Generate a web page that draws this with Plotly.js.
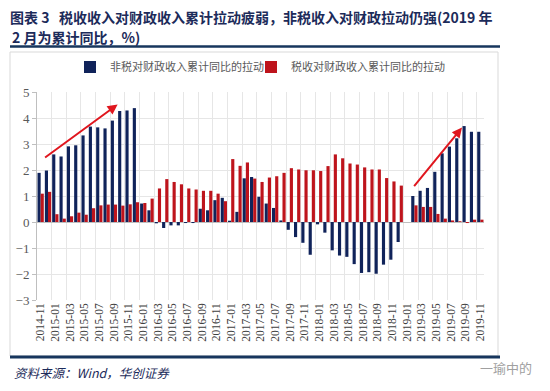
<!DOCTYPE html>
<html>
<head>
<meta charset="utf-8">
<script src="https://cdn.plot.ly/plotly-3.0.1.min.js"></script>
<style>html,body{margin:0;padding:0;background:#fff;}#chart{width:550px;height:391px;}</style>
</head>
<body>
<div id="chart"></div>
<script>
// Monthly categories (2019-01 has no data: Jan–Feb 2019 reported cumulatively)
var months = [
  "2014-11","2014-12",
  "2015-01","2015-02","2015-03","2015-04","2015-05","2015-06","2015-07","2015-08","2015-09","2015-10","2015-11","2015-12",
  "2016-01","2016-02","2016-03","2016-04","2016-05","2016-06","2016-07","2016-08","2016-09","2016-10","2016-11","2016-12",
  "2017-01","2017-02","2017-03","2017-04","2017-05","2017-06","2017-07","2017-08","2017-09","2017-10","2017-11","2017-12",
  "2018-01","2018-02","2018-03","2018-04","2018-05","2018-06","2018-07","2018-08","2018-09","2018-10","2018-11","2018-12",
  "2019-01","2019-02","2019-03","2019-04","2019-05","2019-06","2019-07","2019-08","2019-09","2019-10","2019-11"
];

// 非税对财政收入累计同比的拉动 (%)
var nonTaxPull = [
  1.89, 1.98,
  2.60, 2.52, 2.91, 2.95, 3.33, 3.67, 3.64, 3.60, 3.90, 4.27, 4.29, 4.38,
  0.71, 0.45, -0.05, -0.23, -0.13, -0.13, -0.04, -0.04, 0.51, 0.45, 0.84, 0.93,
  0.05, 0.39, 1.68, 1.73, 0.97, 0.71, 0.54, 0.06, -0.30, -0.58, -0.80, -1.26,
  -0.09, -0.41, -1.09, -1.29, -1.34, -1.62, -1.96, -1.93, -1.99, -1.64, -1.45, -0.77,
  null, 1.00, 1.20, 1.31, 1.93, 2.64, 2.90, 3.22, 3.69, 3.47, 3.47
];

// 税收对财政收入累计同比的拉动 (%)
var taxPull = [
  1.09, 1.16,
  0.30, 0.13, 0.22, 0.36, 0.28, 0.53, 0.64, 0.67, 0.67, 0.63, 0.68, 0.76,
  0.73, 0.90, 1.29, 1.65, 1.54, 1.45, 1.29, 1.25, 1.20, 1.20, 1.09, 0.80,
  2.42, 2.16, 2.29, 1.67, 1.54, 1.71, 1.76, 1.89, 2.07, 2.02, 1.99, 1.99,
  1.96, 2.15, 2.60, 2.45, 2.25, 2.21, 2.10, 2.02, 2.02, 1.69, 1.56, 1.40,
  null, 0.64, 0.58, 0.58, 0.31, 0.13, 0.06, 0.03, -0.04, 0.09, 0.09
];

// Tick labels: every other month
var tickLabels = [
  "2014-11","2015-01","2015-03","2015-05","2015-07","2015-09","2015-11",
  "2016-01","2016-03","2016-05","2016-07","2016-09","2016-11",
  "2017-01","2017-03","2017-05","2017-07","2017-09","2017-11",
  "2018-01","2018-03","2018-05","2018-07","2018-09","2018-11",
  "2019-01","2019-03","2019-05","2019-07","2019-09","2019-11"
];

var seriesNames = ["非税对财政收入累计同比的拉动", "税收对财政收入累计同比的拉动"];
var yTicks = [-3, -2, -1, 0, 1, 2, 3, 4, 5];

var cjk = "'Noto Sans CJK SC', 'Noto Sans', sans-serif";
var serif = "'Liberation Serif', 'DejaVu Serif', serif";

var data = [
  {type: "bar", name: seriesNames[0], x: months, y: nonTaxPull,
   marker: {color: "#10235A"}, hoverinfo: "x+y", legend: "legend"},
  {type: "bar", name: seriesNames[1], x: months, y: taxPull,
   marker: {color: "#BE141C"}, hoverinfo: "x+y", legend: "legend2"}
];

// helper: pixel -> paper coords (plot area x 37..484, y 92..300)
function py(p) { return (300 - p) / 208; }
function px(p) { return (p - 37) / 447; }

var legendFont = {family: cjk, size: 11, color: "#595959"};

var layout = {
  width: 550, height: 391,
  margin: {l: 37, r: 66, t: 92, b: 91, pad: 0},
  paper_bgcolor: "#ffffff", plot_bgcolor: "#ffffff",
  barmode: "group", bargap: 0.14, bargroupgap: 0,
  showlegend: true,
  title: {
    text: "图表 3\u00a0\u00a0\u00a0税收收入对财政收入累计拉动疲弱，非税收入对财政拉动仍强(2019 年",
    x: 10/550, xanchor: "left", y: 1 - 18/391, yanchor: "middle",
    font: {family: cjk, size: 14, color: "#1C2B5A", weight: "bold"}
  },
  legend: {
    orientation: "h", x: px(70), xanchor: "left", y: py(67), yanchor: "middle",
    font: legendFont, bgcolor: "rgba(0,0,0,0)", itemwidth: 30
  },
  legend2: {
    orientation: "h", x: px(251), xanchor: "left", y: py(67), yanchor: "middle",
    font: legendFont, bgcolor: "rgba(0,0,0,0)", itemwidth: 30
  },
  xaxis: {
    type: "category", categoryorder: "array", categoryarray: months,
    range: [-0.5, months.length - 0.5],
    tickmode: "array", tickvals: tickLabels, ticktext: tickLabels,
    tickson: "boundaries",
    tickangle: -90, tickfont: {family: serif, size: 11.5, color: "#404040"},
    showgrid: true, gridcolor: "#E6E6E6", gridwidth: 1,
    showline: false, zeroline: false, ticks: ""
  },
  yaxis: {
    range: [-3, 5], tickmode: "array", tickvals: yTicks,
    tickfont: {family: serif, size: 13, color: "#595959"},
    showgrid: true, gridcolor: "#E6E6E6", gridwidth: 1,
    showline: true, linecolor: "#BFBFBF", linewidth: 1,
    zeroline: true, zerolinecolor: "#BFBFBF", zerolinewidth: 1,
    ticks: "outside", ticklen: 4, tickcolor: "#BFBFBF"
  },
  shapes: [
    {type: "rect", xref: "paper", yref: "paper",
     x0: px(10), x1: px(498), y0: py(356), y1: py(52),
     line: {color: "#D9D9D9", width: 1}, fillcolor: "rgba(0,0,0,0)", layer: "below"},
    {type: "line", xref: "paper", yref: "paper",
     x0: px(10), x1: px(500), y0: py(46.5), y1: py(46.5),
     line: {color: "#17365D", width: 2.5}},
    {type: "line", xref: "paper", yref: "paper",
     x0: px(10), x1: px(500), y0: py(357), y1: py(357),
     line: {color: "#17365D", width: 3}}
  ],
  annotations: [
    {xref: "paper", yref: "paper", x: px(10), y: py(37), xanchor: "left", yanchor: "middle",
     showarrow: false, text: "2 月为累计同比，%)",
     font: {family: cjk, size: 14, color: "#1C2B5A", weight: "bold"}},
    {xref: "x", yref: "y", axref: "x", ayref: "y",
     x: 10.5, y: 4.52, ax: 0.4, ay: 2.44,
     showarrow: true, arrowhead: 2, arrowsize: 1, arrowwidth: 2, arrowcolor: "#E0161E", text: ""},
    {xref: "x", yref: "y", axref: "x", ayref: "y",
     x: 57.5, y: 3.63, ax: 50.8, ay: 1.32,
     showarrow: true, arrowhead: 2, arrowsize: 1, arrowwidth: 2, arrowcolor: "#E0161E", text: ""},
    {xref: "paper", yref: "paper", x: px(12), y: py(372), xanchor: "left", yanchor: "middle",
     showarrow: false, text: "资料来源：Wind，华创证券",
     font: {family: cjk, size: 12.5, color: "#1C2B5A", style: "italic"}},
    {xref: "paper", yref: "paper", x: px(534), y: py(367), xanchor: "right", yanchor: "middle",
     showarrow: false, text: "一瑜中的",
     font: {family: cjk, size: 13, color: "#A0A0A0"}}
  ]
};

Plotly.newPlot("chart", data, layout, {staticPlot: true, displayModeBar: false});
</script>
</body>
</html>
